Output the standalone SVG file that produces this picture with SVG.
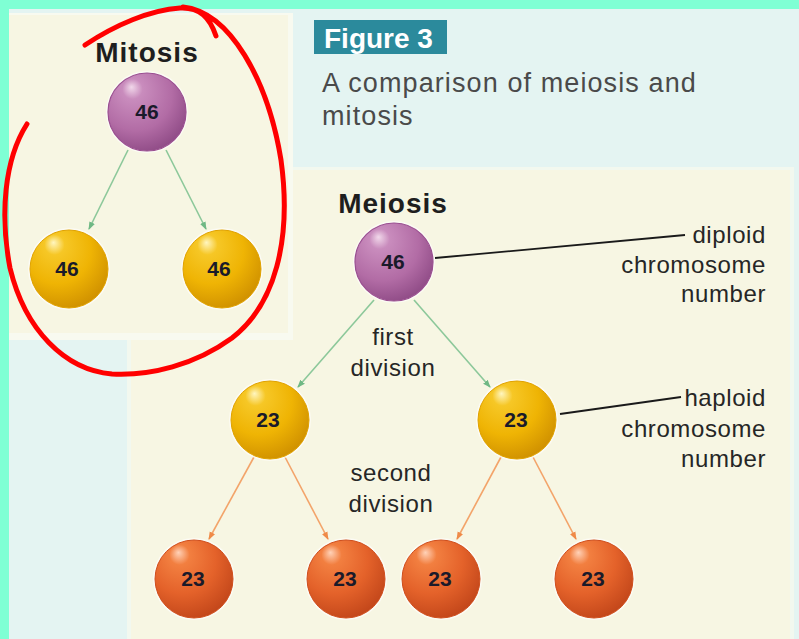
<svg xmlns="http://www.w3.org/2000/svg" width="799" height="639" viewBox="0 0 799 639">
<style>
.lbl{font-family:"Liberation Sans",Arial,sans-serif;font-size:24px;fill:#262626;letter-spacing:0.6px}
.ttl{font-family:"Liberation Sans",Arial,sans-serif;font-size:28px;font-weight:bold;fill:#1e1e1e;letter-spacing:1px}
.num{font-family:"Liberation Sans",Arial,sans-serif;font-size:21px;font-weight:bold;fill:#1a1a2a;text-anchor:middle}
.cap{font-family:"Liberation Sans",Arial,sans-serif;font-size:27px;fill:#4a4a4a;letter-spacing:1.1px}
.halo{fill:#ffffff;opacity:0.6}
.g{stroke:#8cc89a;stroke-width:1.6;fill:none;marker-end:url(#ag)}
.o{stroke:#f3a46a;stroke-width:1.6;fill:none;marker-end:url(#ao)}
.call{stroke:#1a1a1a;stroke-width:1.8;fill:none}
</style>
<defs>
<radialGradient id="gp" cx="0.38" cy="0.32" r="0.72" fx="0.3" fy="0.18">
<stop offset="0" stop-color="#f1d8ea"/>
<stop offset="0.18" stop-color="#c98cbd"/>
<stop offset="0.65" stop-color="#b26ca5"/>
<stop offset="1" stop-color="#8f4b86"/>
</radialGradient>
<radialGradient id="gy" cx="0.38" cy="0.32" r="0.72" fx="0.3" fy="0.16">
<stop offset="0" stop-color="#fff6c0"/>
<stop offset="0.18" stop-color="#f6c726"/>
<stop offset="0.6" stop-color="#efb404"/>
<stop offset="1" stop-color="#cf9000"/>
</radialGradient>
<radialGradient id="go" cx="0.38" cy="0.32" r="0.72" fx="0.3" fy="0.16">
<stop offset="0" stop-color="#ffd2b8"/>
<stop offset="0.18" stop-color="#f27f40"/>
<stop offset="0.6" stop-color="#e4622a"/>
<stop offset="1" stop-color="#c2461a"/>
</radialGradient>
<marker id="ag" markerWidth="8" markerHeight="8" refX="7" refY="4" orient="auto" markerUnits="userSpaceOnUse">
<path d="M0,1 L8,4 L0,7 Z" fill="#6fb884"/>
</marker>
<marker id="ao" markerWidth="8" markerHeight="8" refX="7" refY="4" orient="auto" markerUnits="userSpaceOnUse">
<path d="M0,1 L8,4 L0,7 Z" fill="#ef8a48"/>
</marker>
</defs>

<!-- page background -->
<rect x="0" y="0" width="799" height="639" fill="#e4f4f2"/>
<rect x="0" y="0" width="799" height="9" fill="#7fffd4"/>
<rect x="0" y="0" width="9" height="639" fill="#7fffd4"/>

<!-- meiosis panel -->
<rect x="127" y="167" width="667" height="472" fill="#f2f8ef"/>
<rect x="131" y="170" width="659" height="469" fill="#f7f6e3"/>
<!-- mitosis panel -->
<rect x="9" y="13" width="284" height="327" fill="#f8faf0"/>
<rect x="9" y="15" width="279" height="318" fill="#f7f6e3"/>

<!-- caption -->
<g id="figure-label">
<rect x="314" y="20" width="133" height="34" fill="#2b8a9c"/>
<text x="324" y="48" font-family="Liberation Sans,Arial,sans-serif" font-size="28" font-weight="bold" fill="#ffffff">Figure 3</text>
</g>
<g id="caption">
<text class="cap" x="322" y="92">A comparison of meiosis and</text>
<text class="cap" x="322" y="125">mitosis</text>
</g>

<!-- connectors -->
<g id="connectors">
<line class="g" x1="128" y1="150" x2="89" y2="229"/>
<line class="g" x1="166" y1="150" x2="206" y2="229"/>
<line class="g" x1="374" y1="300" x2="298" y2="387"/>
<line class="g" x1="414" y1="300" x2="490" y2="387"/>
<line class="o" x1="254" y1="457" x2="209" y2="539"/>
<line class="o" x1="285" y1="457" x2="328" y2="539"/>
<line class="o" x1="501" y1="457" x2="457" y2="539"/>
<line class="o" x1="533" y1="457" x2="576" y2="539"/>
<line class="call" x1="435" y1="258" x2="685" y2="235"/>
<line class="call" x1="560" y1="414" x2="681" y2="397"/>
</g>

<!-- titles -->
<text class="ttl" x="147" y="62" text-anchor="middle">Mitosis</text>
<text class="ttl" x="393" y="213" text-anchor="middle">Meiosis</text>

<!-- mitosis nodes -->
<g id="mit-parent">
<circle class="halo" cx="147" cy="112" r="41"/>
<circle cx="147" cy="112" r="39" fill="url(#gp)" stroke="#9a4e90" stroke-width="1.2"/>
<text class="num" x="147" y="119">46</text>
</g>
<g id="mit-child-1">
<circle class="halo" cx="69" cy="269" r="41"/>
<circle cx="69" cy="269" r="39" fill="url(#gy)" stroke="#e0a200" stroke-width="1"/>
<text class="num" x="67" y="276">46</text>
</g>
<g id="mit-child-2">
<circle class="halo" cx="222" cy="269" r="41"/>
<circle cx="222" cy="269" r="39" fill="url(#gy)" stroke="#e0a200" stroke-width="1"/>
<text class="num" x="219" y="276">46</text>
</g>

<!-- meiosis nodes -->
<g id="mei-parent">
<circle class="halo" cx="394" cy="262" r="41"/>
<circle cx="394" cy="262" r="39" fill="url(#gp)" stroke="#9a4e90" stroke-width="1.2"/>
<text class="num" x="393" y="269">46</text>
</g>
<g id="mei-1a">
<circle class="halo" cx="270" cy="420" r="41"/>
<circle cx="270" cy="420" r="39" fill="url(#gy)" stroke="#e0a200" stroke-width="1"/>
<text class="num" x="268" y="427">23</text>
</g>
<g id="mei-1b">
<circle class="halo" cx="517" cy="420" r="41"/>
<circle cx="517" cy="420" r="39" fill="url(#gy)" stroke="#e0a200" stroke-width="1"/>
<text class="num" x="516" y="427">23</text>
</g>
<g id="mei-2a">
<circle class="halo" cx="194" cy="579" r="41"/>
<circle cx="194" cy="579" r="39" fill="url(#go)" stroke="#cf4e1c" stroke-width="1"/>
<text class="num" x="193" y="586">23</text>
</g>
<g id="mei-2b">
<circle class="halo" cx="346" cy="579" r="41"/>
<circle cx="346" cy="579" r="39" fill="url(#go)" stroke="#cf4e1c" stroke-width="1"/>
<text class="num" x="345" y="586">23</text>
</g>
<g id="mei-2c">
<circle class="halo" cx="441" cy="579" r="41"/>
<circle cx="441" cy="579" r="39" fill="url(#go)" stroke="#cf4e1c" stroke-width="1"/>
<text class="num" x="440" y="586">23</text>
</g>
<g id="mei-2d">
<circle class="halo" cx="594" cy="579" r="41"/>
<circle cx="594" cy="579" r="39" fill="url(#go)" stroke="#cf4e1c" stroke-width="1"/>
<text class="num" x="593" y="586">23</text>
</g>

<!-- labels -->
<g id="label-diploid">
<text class="lbl" x="766" y="243" text-anchor="end">diploid</text>
<text class="lbl" x="766" y="273" text-anchor="end">chromosome</text>
<text class="lbl" x="766" y="302" text-anchor="end">number</text>
</g>
<g id="label-first">
<text class="lbl" x="393" y="345" text-anchor="middle">first</text>
<text class="lbl" x="393" y="376" text-anchor="middle">division</text>
</g>
<g id="label-haploid">
<text class="lbl" x="766" y="406" text-anchor="end">haploid</text>
<text class="lbl" x="766" y="437" text-anchor="end">chromosome</text>
<text class="lbl" x="766" y="467" text-anchor="end">number</text>
</g>
<g id="label-second">
<text class="lbl" x="391" y="481" text-anchor="middle">second</text>
<text class="lbl" x="391" y="512" text-anchor="middle">division</text>
</g>

<!-- red hand-drawn loop -->
<path d="M85,45 C115,25 150,10 180,8 C200,7 210,18 216,36 M183,7 C230,12 268,80 281,160 C292,240 275,305 232,338 C195,365 150,376 112,374 C65,370 25,330 10,268 C0,215 4,160 27,124" fill="none" stroke="#ff0000" stroke-width="5" stroke-linecap="round" stroke-linejoin="round"/>
</svg>
